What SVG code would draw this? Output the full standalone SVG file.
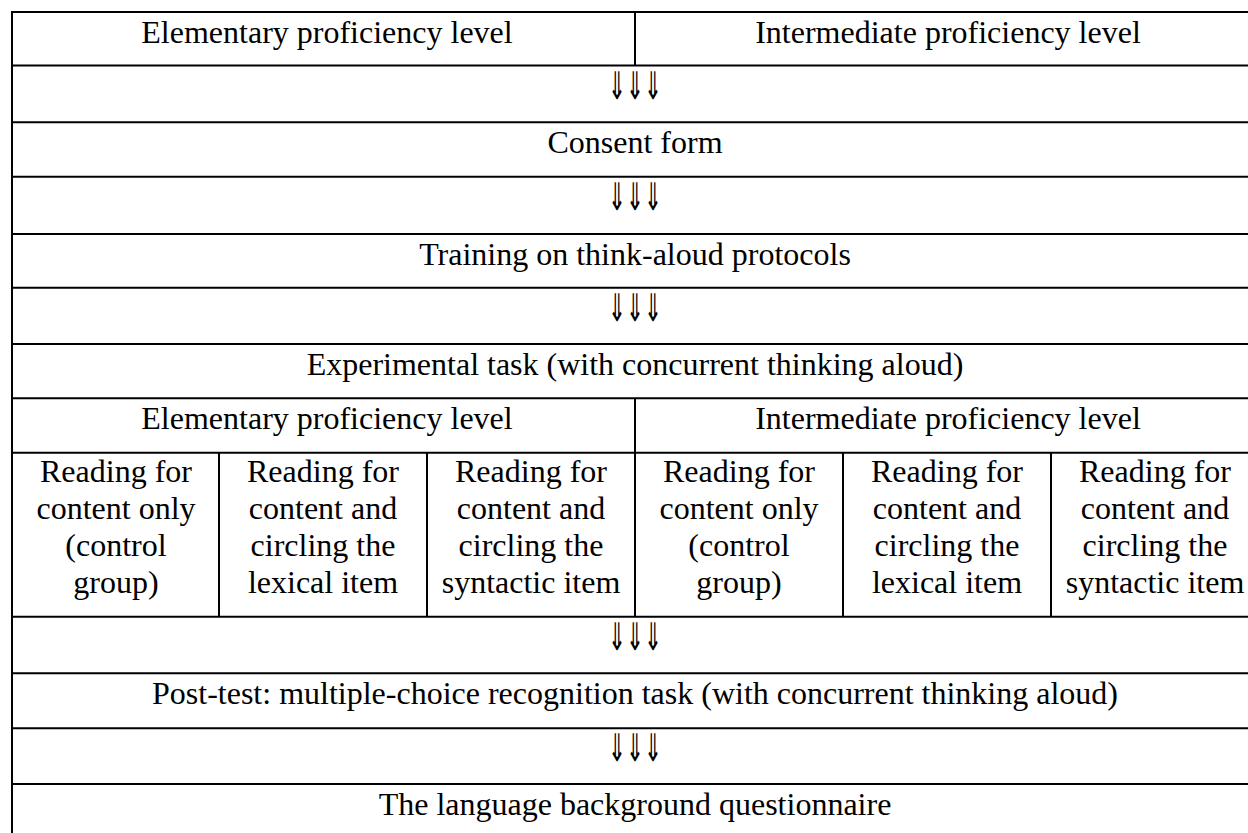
<svg xmlns="http://www.w3.org/2000/svg" width="1248" height="833" viewBox="0 0 1248 833">
<style>
.t{font-family:"Liberation Serif","Times New Roman",serif;font-size:32px;fill:#000;text-anchor:middle}
.a{font-family:"DejaVu Sans",sans-serif;font-size:38px;fill:#000;text-anchor:middle}
.g line{stroke:#000;stroke-width:2}
</style>
<rect width="1248" height="833" fill="#fff"/>
<g id="grid" class="g">
<line x1="11" y1="12" x2="1260" y2="12"/>
<line x1="11" y1="65.5" x2="1260" y2="65.5"/>
<line x1="11" y1="122.3" x2="1260" y2="122.3"/>
<line x1="11" y1="176.7" x2="1260" y2="176.7"/>
<line x1="11" y1="234" x2="1260" y2="234"/>
<line x1="11" y1="287.7" x2="1260" y2="287.7"/>
<line x1="11" y1="344" x2="1260" y2="344"/>
<line x1="11" y1="398.3" x2="1260" y2="398.3"/>
<line x1="11" y1="452.7" x2="1260" y2="452.7"/>
<line x1="11" y1="616.7" x2="1260" y2="616.7"/>
<line x1="11" y1="673.3" x2="1260" y2="673.3"/>
<line x1="11" y1="728.3" x2="1260" y2="728.3"/>
<line x1="11" y1="784" x2="1260" y2="784"/>
<line x1="12" y1="11" x2="12" y2="840"/>
<line x1="635" y1="12" x2="635" y2="65.5"/>
<line x1="635" y1="398.3" x2="635" y2="616.7"/>
<line x1="219" y1="452.7" x2="219" y2="616.7"/>
<line x1="427" y1="452.7" x2="427" y2="616.7"/>
<line x1="843" y1="452.7" x2="843" y2="616.7"/>
<line x1="1051" y1="452.7" x2="1051" y2="616.7"/>
</g>
<g id="connectors">
<text class="a" x="635" y="99" textLength="54" lengthAdjust="spacingAndGlyphs">⇓⇓⇓</text>
<text class="a" x="635" y="210" textLength="54" lengthAdjust="spacingAndGlyphs">⇓⇓⇓</text>
<text class="a" x="635" y="321" textLength="54" lengthAdjust="spacingAndGlyphs">⇓⇓⇓</text>
<text class="a" x="635" y="650" textLength="54" lengthAdjust="spacingAndGlyphs">⇓⇓⇓</text>
<text class="a" x="635" y="761" textLength="54" lengthAdjust="spacingAndGlyphs">⇓⇓⇓</text>
</g>
<g id="elem-top"><text class="t" x="327" y="43">Elementary proficiency level</text></g>
<g id="inter-top"><text class="t" x="948" y="43">Intermediate proficiency level</text></g>
<g id="consent"><text class="t" x="635" y="153">Consent form</text></g>
<g id="training"><text class="t" x="635" y="265">Training on think-aloud protocols</text></g>
<g id="experimental"><text class="t" x="635" y="375">Experimental task (with concurrent thinking aloud)</text></g>
<g id="elem-mid"><text class="t" x="327" y="429">Elementary proficiency level</text></g>
<g id="inter-mid"><text class="t" x="948" y="429">Intermediate proficiency level</text></g>
<g id="e-control"><text class="t" x="116" y="482">Reading for<tspan x="116" dy="37">content only</tspan><tspan x="116" dy="37">(control</tspan><tspan x="116" dy="37">group)</tspan></text></g>
<g id="e-lexical"><text class="t" x="323" y="482">Reading for<tspan x="323" dy="37">content and</tspan><tspan x="323" dy="37">circling the</tspan><tspan x="323" dy="37">lexical item</tspan></text></g>
<g id="e-syntactic"><text class="t" x="531" y="482">Reading for<tspan x="531" dy="37">content and</tspan><tspan x="531" dy="37">circling the</tspan><tspan x="531" dy="37">syntactic item</tspan></text></g>
<g id="i-control"><text class="t" x="739" y="482">Reading for<tspan x="739" dy="37">content only</tspan><tspan x="739" dy="37">(control</tspan><tspan x="739" dy="37">group)</tspan></text></g>
<g id="i-lexical"><text class="t" x="947" y="482">Reading for<tspan x="947" dy="37">content and</tspan><tspan x="947" dy="37">circling the</tspan><tspan x="947" dy="37">lexical item</tspan></text></g>
<g id="i-syntactic"><text class="t" x="1155" y="482">Reading for<tspan x="1155" dy="37">content and</tspan><tspan x="1155" dy="37">circling the</tspan><tspan x="1155" dy="37">syntactic item</tspan></text></g>
<g id="posttest"><text class="t" x="635" y="704">Post-test: multiple-choice recognition task (with concurrent thinking aloud)</text></g>
<g id="questionnaire"><text class="t" x="635" y="815">The language background questionnaire</text></g>
</svg>
